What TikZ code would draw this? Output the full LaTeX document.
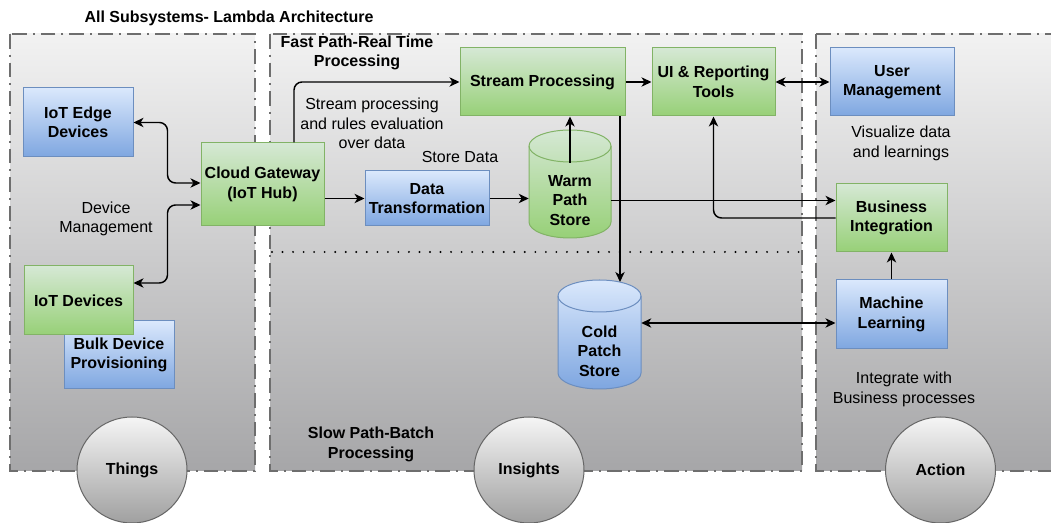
\documentclass[tikz,border=0pt]{standalone}
\usepackage{fontspec}
\setmainfont{Liberation Sans}
\usetikzlibrary{arrows.meta,shapes.geometric}
\newdimen\px \px=0.75pt
\definecolor{bluetop}{HTML}{DAE8FC}
\definecolor{bluebot}{HTML}{7EA6E0}
\definecolor{blueedge}{HTML}{6C8EBF}
\definecolor{greentop}{HTML}{D5E8D4}
\definecolor{greenbot}{HTML}{97D077}
\definecolor{greenedge}{HTML}{82B366}
\definecolor{paneltop}{HTML}{F2F2F2}
\definecolor{panelbot}{HTML}{A6A6A8}
\definecolor{paneledge}{HTML}{6E6E6E}
\definecolor{circtop}{HTML}{F5F5F5}
\definecolor{circbot}{HTML}{A0A0A0}
\definecolor{circedge}{HTML}{666666}
\begin{document}
\begin{tikzpicture}[x=0.75pt,y=0.75pt,
  txt/.style={align=center, font=\fontsize{12}{14.6}\selectfont, inner sep=0pt},
  btxt/.style={align=center, font=\fontsize{12}{14.6}\selectfont\bfseries, inner sep=0pt},
  box/.style={draw, line width=0.75pt, align=center, font=\fontsize{12}{14.6}\selectfont\bfseries, inner sep=2pt},
  bluebox/.style={box, draw=blueedge, top color=bluetop, bottom color=bluebot},
  greenbox/.style={box, draw=greenedge, top color=greentop, bottom color=greenbot},
  panel/.style={draw=paneledge, line width=1.9pt, dash pattern=on 11pt off 4.5pt on 1.5pt off 4.5pt, top color=paneltop, bottom color=panelbot},
  bubble/.style={ellipse, draw=circedge, line width=0.75pt, top color=circtop, bottom color=circbot, minimum width=110\px, minimum height=106\px, font=\fontsize{12}{14.6}\selectfont\bfseries, inner sep=0pt},
  cyltext/.style={align=center, font=\fontsize{12}{14.6}\selectfont\bfseries, inner sep=0pt},
  conn/.style={line width=1.1pt, black},
  arr/.style={conn, -{Stealth[length=7.5pt, width=7pt, inset=2.2pt]}},
  darr/.style={conn, {Stealth[length=7.5pt, width=7pt, inset=2.2pt]}-{Stealth[length=7.5pt, width=7pt, inset=2.2pt]}},
]
\useasboundingbox (0,0) rectangle (1051,-523);
\fill[white] (0,0) rectangle (1051,-523);

% panels
\path[panel] (10,-34) rectangle (255,-471);
\path[panel] (270,-34) rectangle (802,-471);
\path[panel] (816,-34) rectangle (1060,-471);
\draw[line width=1.6pt, line cap=round, dash pattern=on 0pt off 7.9pt] (272,-252) -- (800,-252);

% titles and labels
\node[btxt] (title) at (229,-18) {All Subsystems- Lambda Architecture};
\node[btxt] (fast) at (357,-53) {Fast Path-Real Time\\Processing};
\node[btxt] (slow) at (371,-444.5) {Slow Path-Batch\\Processing};
\node[txt] (streamlbl) at (372,-123.5) {Stream processing\\and rules evaluation\\over data};
\node[txt] (storelbl) at (460,-157) {Store Data};
\node[txt] (devlbl) at (106,-219) {Device\\Management};
\node[txt] (vislbl) at (901,-143.5) {Visualize data\\and learnings};
\node[txt] (intlbl) at (904,-389.5) {Integrate with\\Business processes};

% cylinders
\shade[top color=greentop, bottom color=greenbot] (529,-146) -- (529,-222) arc[start angle=180,end angle=360,x radius=41,y radius=16] -- (611,-146) arc[start angle=0,end angle=180,x radius=41,y radius=16] -- cycle;
\draw[greenedge, line width=0.75pt] (529,-146) -- (529,-222) arc[start angle=180,end angle=360,x radius=41,y radius=16] -- (611,-146) arc[start angle=0,end angle=180,x radius=41,y radius=16] -- cycle;
\draw[greenedge, line width=0.75pt] (529,-146) arc[start angle=180,end angle=360,x radius=41,y radius=16];
\node[cyltext, minimum width=82\px, minimum height=75\px] (warm) at (570,-200.5) {Warm\\Path\\Store};

\shade[top color=bluetop, bottom color=bluebot] (558,-296) -- (558,-373) arc[start angle=180,end angle=360,x radius=41.5,y radius=16] -- (641,-296) arc[start angle=0,end angle=180,x radius=41.5,y radius=16] -- cycle;
\draw[blueedge, line width=0.75pt] (558,-296) -- (558,-373) arc[start angle=180,end angle=360,x radius=41.5,y radius=16] -- (641,-296) arc[start angle=0,end angle=180,x radius=41.5,y radius=16] -- cycle;
\draw[blueedge, line width=0.75pt] (558,-296) arc[start angle=180,end angle=360,x radius=41.5,y radius=16];
\node[cyltext, minimum width=83\px, minimum height=76\px] (cold) at (599.5,-351) {Cold\\Patch\\Store};

% boxes
\node[bluebox, minimum width=110\px, minimum height=69\px] (edge) at (78,-122.5) {IoT Edge\\Devices};
\node[bluebox, minimum width=110\px, minimum height=68\px] (bulk) at (119,-355) {Bulk Device\\Provisioning};
\node[greenbox, minimum width=109\px, minimum height=69\px] (iotd) at (78.5,-300.5) {IoT Devices};
\node[greenbox, minimum width=123\px, minimum height=83\px] (gw) at (262.5,-184.5) {Cloud Gateway\\(IoT Hub)};
\node[bluebox, minimum width=124\px, minimum height=55\px] (dt) at (427,-198.5) {Data\\Transformation};
\node[greenbox, minimum width=165\px, minimum height=68\px] (sp) at (542.5,-82) {Stream Processing};
\node[greenbox, minimum width=123\px, minimum height=68\px] (ui) at (713.5,-82) {UI \& Reporting\\Tools};
\node[bluebox, minimum width=124\px, minimum height=68\px] (um) at (892,-82) {User\\Management};
\node[greenbox, minimum width=111\px, minimum height=68\px] (bi) at (891.5,-218) {Business\\Integration};
\node[bluebox, minimum width=111\px, minimum height=69\px] (ml) at (891.5,-314.5) {Machine\\Learning};

% bubbles
\node[bubble] (things) at (132,-470) {Things};
\node[bubble] (insights) at (529,-470) {Insights};
\node[bubble] (action) at (940.5,-470) {Action};

% helper coordinates
\coordinate (gwtap) at ([xshift=31.5\px]gw.north);
\coordinate (coldin) at (620,-282);
\coordinate (mlin) at ([yshift=-8.5\px]ml.west);

% connectors
\draw[darr, rounded corners=8\px] (edge.east) -- ++(34,0) |- ([yshift=1.5\px]gw.west);
\draw[darr, rounded corners=8\px] ([yshift=17.5\px]iotd.east) -- ++(34,0) |- ([yshift=-20.5\px]gw.west);
\draw[arr] (gw.east |- dt.west) -- (dt.west);
\draw[arr, rounded corners=8\px] (gwtap) |- (sp.west);
\draw[arr] (dt.east) -- (dt.east -| warm.west);
\draw[arr] (warm.north) -- (warm.north |- sp.south);
\draw[arr] (sp.east) -- (ui.west);
\draw[darr] (ui.east) -- (um.west);
\draw[arr] (warm.east) -- (warm.east -| bi.west);
\draw[arr, rounded corners=8\px] (bi.west) -| (ui.south);
\draw[arr] (sp.south -| coldin) -- (coldin);
\draw[darr] (mlin -| cold.east) -- (mlin);
\draw[arr] (ml.north) -- (bi.south);
\end{tikzpicture}
\end{document}
